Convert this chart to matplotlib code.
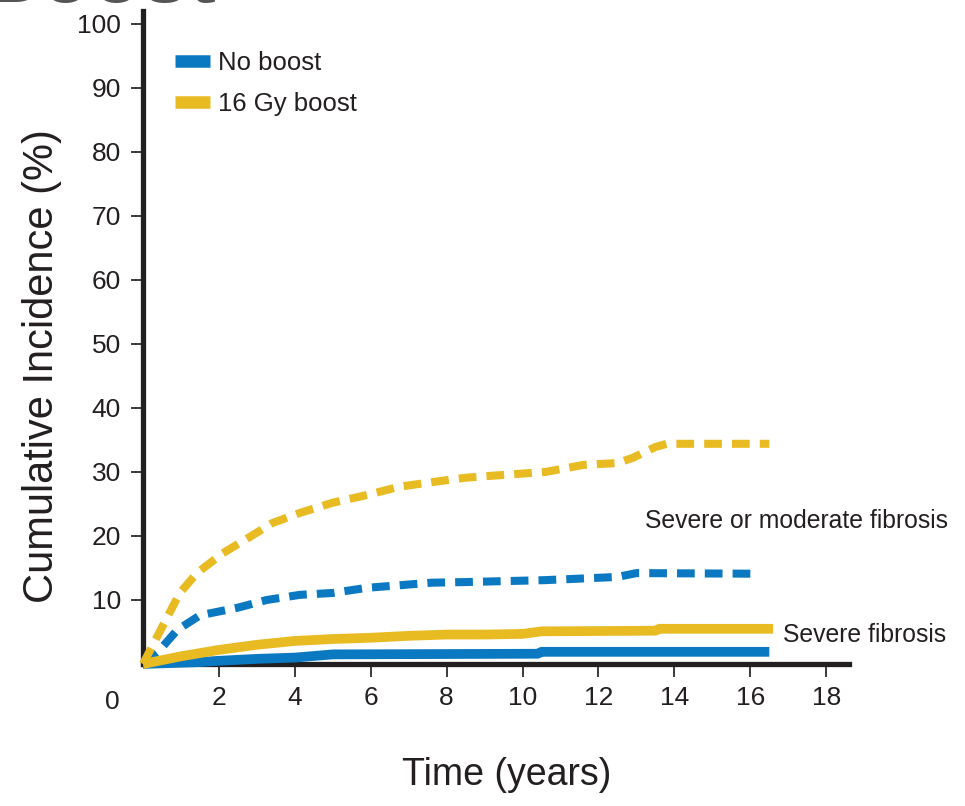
import matplotlib
matplotlib.use("Agg")
import matplotlib.pyplot as plt
from matplotlib.lines import Line2D

plt.rcParams['font.family'] = ['Liberation Sans', 'DejaVu Sans']

# Cumulative incidence (%)
t_boost_mod = [0, 0.97, 1.42, 2.1, 2.8, 3.4, 4.13, 5.0, 5.9, 6.76, 7.6, 8.5, 9.4, 10.6, 11.6, 12.5, 12.9, 13.5, 13.8, 16.5]
v_boost_mod = [0, 11.1, 14.2, 17.3, 19.8, 22.0, 23.6, 25.2, 26.4, 27.7, 28.4, 29.1, 29.5, 30.0, 31.1, 31.4, 32.2, 33.9, 34.4, 34.4]

t_noboost_mod = [0, 0.37, 0.9, 1.5, 2.0, 2.5, 3.26, 4.13, 5.0, 5.9, 6.76, 7.6, 8.5, 10.6, 12.5, 13.0, 16.2]
v_noboost_mod = [0, 1.7, 5.3, 7.6, 8.2, 8.8, 10.0, 10.8, 11.1, 11.9, 12.3, 12.7, 12.8, 13.1, 13.6, 14.2, 14.1]

t_boost_sev = [0, 1, 2, 3, 4, 5, 6, 7, 8, 9, 10, 10.5, 13.5, 13.6, 16.6]
v_boost_sev = [0, 1.2, 2.2, 3.0, 3.6, 3.9, 4.1, 4.4, 4.6, 4.6, 4.7, 5.1, 5.2, 5.5, 5.5]

t_noboost_sev = [0, 0.5, 1.5, 2, 3, 4, 5, 10.4, 10.5, 16.5]
v_noboost_sev = [0, 0.1, 0.3, 0.5, 0.8, 1.0, 1.5, 1.6, 1.9, 1.9]

x_ticks = [2, 4, 6, 8, 10, 12, 14, 16, 18]
y_ticks = [10, 20, 30, 40, 50, 60, 70, 80, 90, 100]

blue = '#0a79c1'
yellow = '#e9bb22'
ink = '#231f20'

fig = plt.figure(figsize=(9.65, 8.06), dpi=100)
ax = fig.add_axes([0.1482, 0.1762, 0.7316, 0.810])

dash = (0, (2.2, 1.25))
ax.plot(t_noboost_mod, v_noboost_mod, color=blue, lw=5.8, linestyle=dash,
        dash_capstyle='butt', clip_on=False, zorder=3)
ax.plot(t_boost_mod, v_boost_mod, color=yellow, lw=5.8, linestyle=dash,
        dash_capstyle='butt', clip_on=False, zorder=3)
ax.plot(t_noboost_sev, v_noboost_sev, color=blue, lw=7, solid_capstyle='butt',
        clip_on=False, zorder=3)
ax.plot(t_boost_sev, v_boost_sev, color=yellow, lw=7, solid_capstyle='butt',
        clip_on=False, zorder=3)

ax.set_xlim(0, 18.6)
ax.set_ylim(0, 102)
ax.set_xticks(x_ticks)
ax.set_yticks(y_ticks)
ax.tick_params(axis='both', direction='out', length=9, width=1.4, color='#3a3a3a',
               labelsize=19, labelcolor=ink, pad=7)

for side in ['top', 'right']:
    ax.spines[side].set_visible(False)
for side in ['left', 'bottom']:
    ax.spines[side].set_linewidth(3.8)
    ax.spines[side].set_color(ink)

ax.text(-0.8, -4.0, '0', ha='center', va='top', fontsize=19, color=ink)

ax.set_ylabel('Cumulative Incidence (%)', fontsize=30, color=ink)
ax.yaxis.set_label_coords(-0.115, 0.4565)
ax.set_xlabel('Time (years)', fontsize=27, color=ink)
ax.xaxis.set_label_coords(0.515, -0.142)

ax.text(13.22, 22.4, 'Severe or moderate fibrosis', fontsize=17.8, color=ink, va='center')
ax.text(16.85, 4.6, 'Severe fibrosis', fontsize=17.8, color=ink, va='center')

handles = [Line2D([], [], color=blue, lw=9, solid_capstyle='butt'),
           Line2D([], [], color=yellow, lw=9, solid_capstyle='butt')]
ax.legend(handles, ['No boost', '16 Gy boost'], loc='upper left',
          bbox_to_anchor=(0.046, 0.939), frameon=False, fontsize=18.5,
          handlelength=1.35, handletextpad=0.3, labelspacing=0.68, borderpad=0,
          borderaxespad=0, labelcolor=ink)

# cut-off panel heading at the very top of the original
fig.text(216 / 965, 1 - 2 / 806, 'Boost', ha='right', va='baseline', fontsize=60,
         color='#555555', fontweight='bold')

fig.savefig('out.png', dpi=100)
